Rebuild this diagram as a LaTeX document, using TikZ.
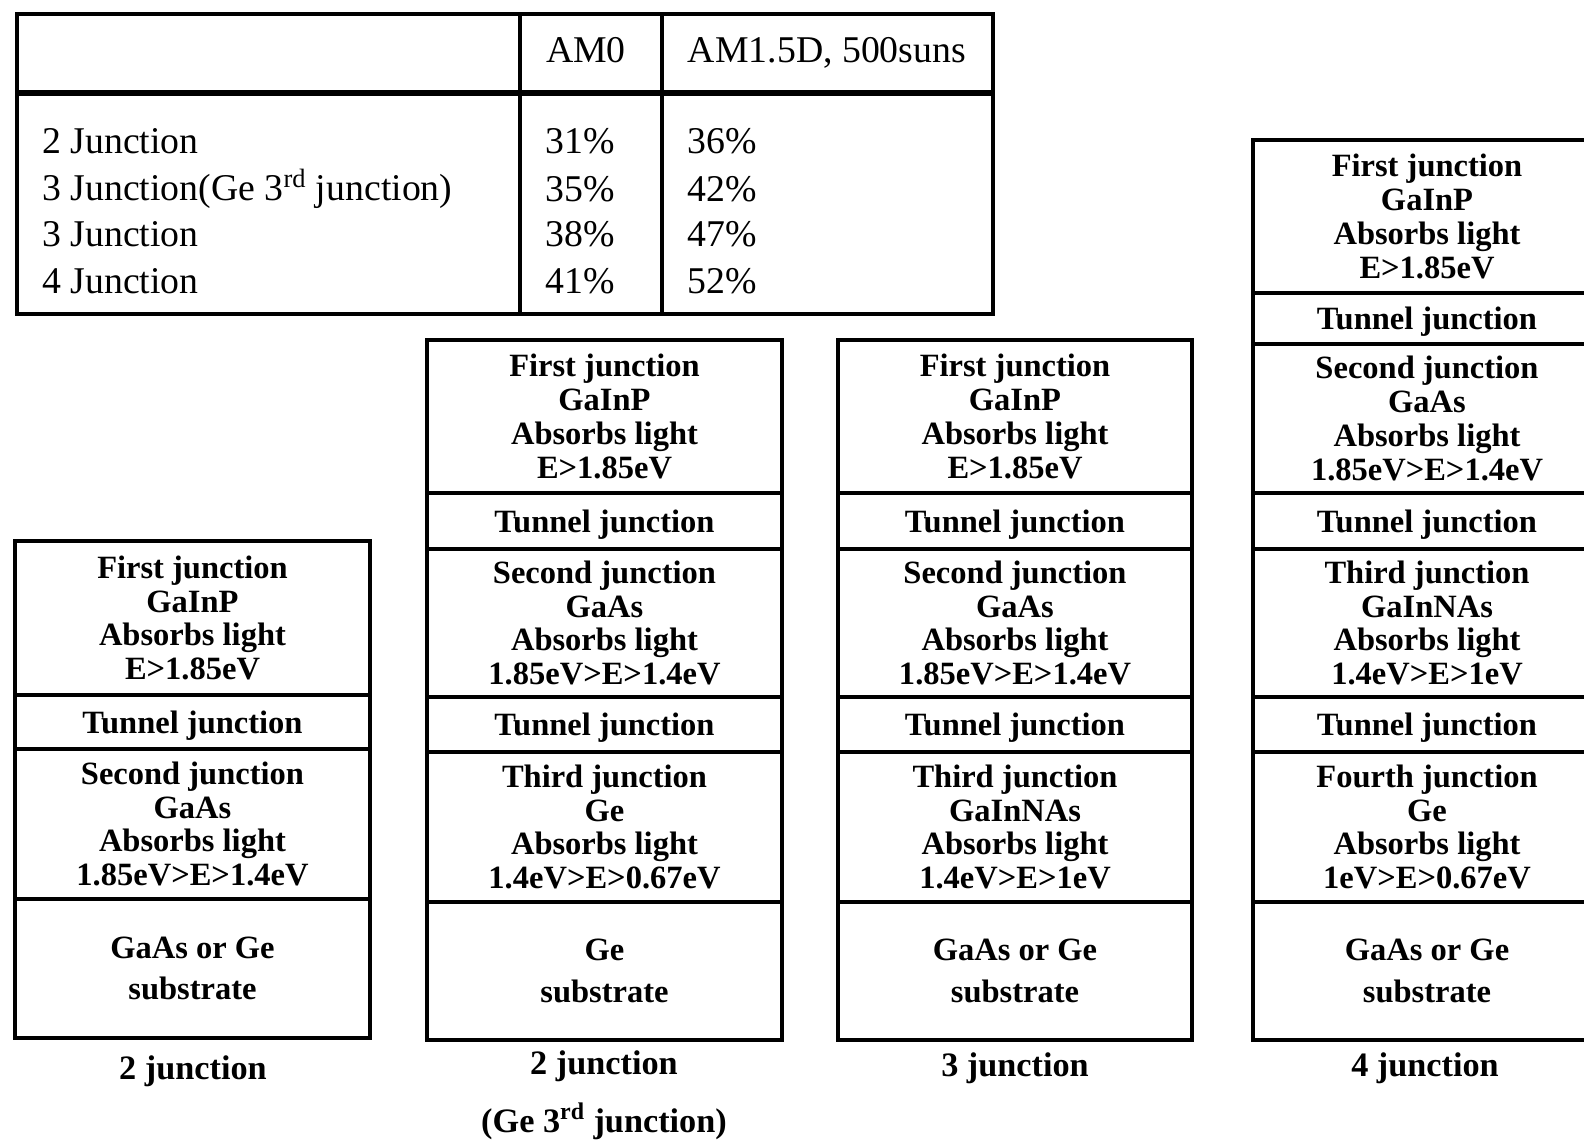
\documentclass[tikz,border=0pt]{standalone}
\usepackage{fontspec}
\setmainfont{Liberation Serif}
\tikzset{
  frame/.style={line width=2.8pt},
  headline/.style={line width=3.8pt},
  celltxt/.style={font=\fontsize{18.5}{19.3}\selectfont\bfseries, align=center, inner sep=0pt},
  tuntxt/.style={font=\fontsize{18.5}{19.3}\selectfont\bfseries, align=center, inner sep=0pt, yshift=-0.07cm},
  subtxt/.style={font=\fontsize{18.5}{23.8}\selectfont\bfseries, align=center, inner sep=0pt},
  tabtxt/.style={font=\fontsize{21.5}{26}\selectfont, inner sep=0pt, anchor=west},
  tabhead/.style={font=\fontsize{21.5}{26}\selectfont, inner sep=0pt, anchor=base},
  captxt/.style={font=\fontsize{19.5}{22}\selectfont\bfseries, inner sep=0pt},
}
\newcommand{\mylayer}[6]{%
  \draw[frame] (#1,#2) rectangle (#3,#4);
  \node[celltxt] (#6) at ({(#1+#3)/2},{(#2+#4)/2}) {#5};}
\newcommand{\mytunnel}[5]{%
  \draw[frame] (#1,#2) rectangle (#3,#4);
  \node[tuntxt] (#5) at ({(#1+#3)/2},{(#2+#4)/2}) {Tunnel junction};}
\newcommand{\mysubst}[6]{%
  \draw[frame] (#1,#2) rectangle (#3,#4);
  \node[subtxt] (#6) at ({(#1+#3)/2},{(#2+#4)/2}) {#5};}
\begin{document}
\begin{tikzpicture}[x=0.02cm,y=-0.02cm]
\path[use as bounding box] (0,0) rectangle (1584,1146);
\clip (0,0) rectangle (1584,1146);

% ---------- table ----------
\draw[frame] (17,14) rectangle (993,314);
\draw[headline] (17,93) -- (993,93);
\draw[frame] (520,14) -- (520,314);
\draw[frame] (662,14) -- (662,314);
\node[tabhead] (hAM0) at (586,62) {AM0};
\node[tabhead] (hAM15) at (827,62) {AM1.5D, 500suns};
\node[tabtxt] (r1) at (42,141) {2 Junction};
\node[tabtxt] (r2) at (42,189) {3 Junction(Ge 3\textsuperscript{rd} junction)};
\node[tabtxt] (r3) at (42,234) {3 Junction};
\node[tabtxt] (r4) at (42,281) {4 Junction};
\node[tabtxt] (a1) at (545,141) {31\%};
\node[tabtxt] (a2) at (545,189) {35\%};
\node[tabtxt] (a3) at (545,234) {38\%};
\node[tabtxt] (a4) at (545,281) {41\%};
\node[tabtxt] (b1) at (687,141) {36\%};
\node[tabtxt] (b2) at (687,189) {42\%};
\node[tabtxt] (b3) at (687,234) {47\%};
\node[tabtxt] (b4) at (687,281) {52\%};

% ---------- stack 1: 2 junction ----------
\mylayer{15}{541}{370}{695}{First junction\\GaInP\\Absorbs light\\E>1.85eV}{s1a}
\mytunnel{15}{695}{370}{749}{s1t1}
\mylayer{15}{749}{370}{899}{Second junction\\GaAs\\Absorbs light\\1.85eV>E>1.4eV}{s1b}
\mysubst{15}{899}{370}{1038}{GaAs or Ge\\substrate}{s1s}
\node[captxt] (c1) at (193,1071) {2 junction};

% ---------- stack 2: 2 junction (Ge 3rd junction) ----------
\mylayer{427}{340}{782}{493}{First junction\\GaInP\\Absorbs light\\E>1.85eV}{s2a}
\mytunnel{427}{493}{782}{549}{s2t1}
\mylayer{427}{549}{782}{697}{Second junction\\GaAs\\Absorbs light\\1.85eV>E>1.4eV}{s2b}
\mytunnel{427}{697}{782}{752}{s2t2}
\mylayer{427}{752}{782}{902}{Third junction\\Ge\\Absorbs light\\1.4eV>E>0.67eV}{s2c}
\mysubst{427}{902}{782}{1040}{Ge\\substrate}{s2s}
\node[captxt] (c2) at (604,1066) {2 junction};
\node[captxt] (c2b) at (604,1121) {(Ge 3\textsuperscript{rd} junction)};

% ---------- stack 3: 3 junction ----------
\mylayer{838}{340}{1192}{493}{First junction\\GaInP\\Absorbs light\\E>1.85eV}{s3a}
\mytunnel{838}{493}{1192}{549}{s3t1}
\mylayer{838}{549}{1192}{697}{Second junction\\GaAs\\Absorbs light\\1.85eV>E>1.4eV}{s3b}
\mytunnel{838}{697}{1192}{752}{s3t2}
\mylayer{838}{752}{1192}{902}{Third junction\\GaInNAs\\Absorbs light\\1.4eV>E>1eV}{s3c}
\mysubst{838}{902}{1192}{1040}{GaAs or Ge\\substrate}{s3s}
\node[captxt] (c3) at (1015,1068) {3 junction};

% ---------- stack 4: 4 junction ----------
\mylayer{1253}{140}{1601}{293}{First junction\\GaInP\\Absorbs light\\E>1.85eV}{s4a}
\mytunnel{1253}{293}{1601}{344}{s4t1}
\mylayer{1253}{344}{1601}{493}{Second junction\\GaAs\\Absorbs light\\1.85eV>E>1.4eV}{s4b}
\mytunnel{1253}{493}{1601}{549}{s4t2}
\mylayer{1253}{549}{1601}{697}{Third junction\\GaInNAs\\Absorbs light\\1.4eV>E>1eV}{s4c}
\mytunnel{1253}{697}{1601}{752}{s4t3}
\mylayer{1253}{752}{1601}{902}{Fourth junction\\Ge\\Absorbs light\\1eV>E>0.67eV}{s4d}
\mysubst{1253}{902}{1601}{1040}{GaAs or Ge\\substrate}{s4s}
\node[captxt] (c4) at (1425,1068) {4 junction};
\end{tikzpicture}
\end{document}
